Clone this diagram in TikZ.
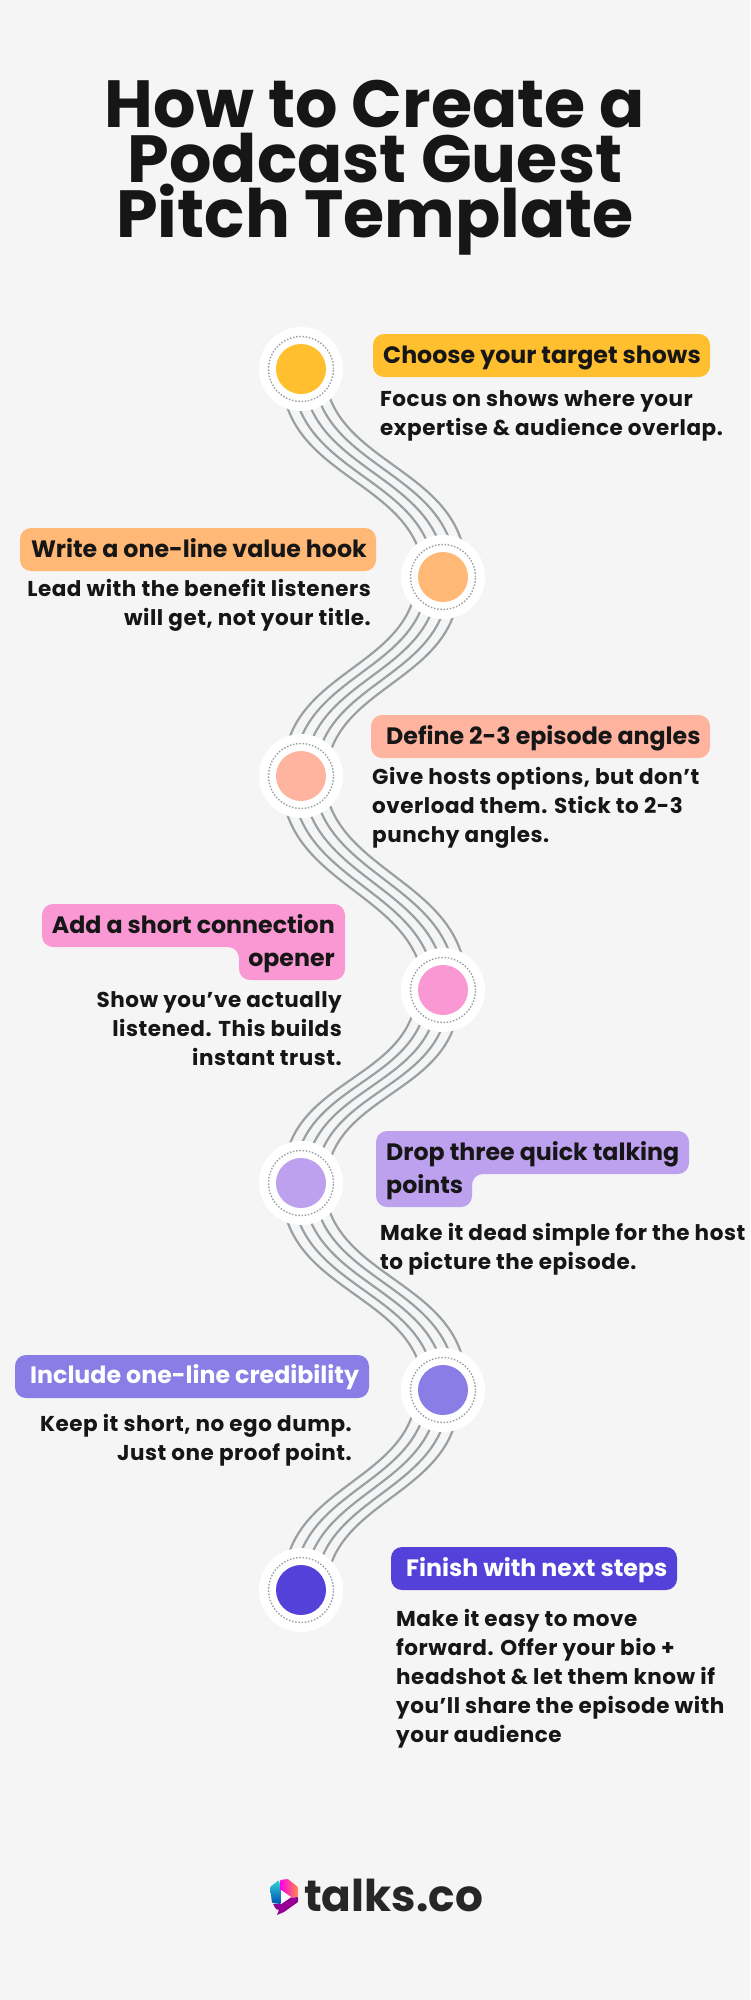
\documentclass[tikz,border=0pt]{standalone}
\usepackage{fontspec}
\setmainfont{Poppins}
\newfontfamily\bodyfont[LetterSpace=2.5]{Poppins}
\usetikzlibrary{positioning, backgrounds}
\definecolor{paper}{HTML}{F5F5F5}
\definecolor{ink}{HTML}{161616}
\definecolor{wavegray}{HTML}{99A0A4}
\definecolor{yellowstop}{HTML}{FFBF2E}
\definecolor{orangestop}{HTML}{FFB876}
\definecolor{salmonstop}{HTML}{FFB4A0}
\definecolor{pinkstop}{HTML}{F998D3}
\definecolor{lilacstop}{HTML}{BDA0EE}
\definecolor{violetstop}{HTML}{8A7EE6}
\definecolor{indigostop}{HTML}{5341DA}
\tikzset{
	x=1pt, y=-1pt, % one unit is one pixel of the reference, y runs down
	halo/.style={circle, fill=white, inner sep=0, minimum size=84pt}, % white disc of a stop
	ring/.style={circle, draw=wavegray, line width=1.4pt, dash pattern=on 1.5pt off 1.7pt, inner sep=0, minimum size=65pt},
	dot/.style={circle, inner sep=0, minimum size=50pt},
	wave/.style={draw=wavegray, line width=2.2pt},
	pill/.style={rounded corners=11pt},
	head/.style={inner sep=0, text=ink, font=\fontsize{23.7}{33}\selectfont\bfseries},
	copy/.style={inner sep=0, text=ink, font=\fontsize{21.5}{29}\selectfont\bodyfont\bfseries},
}
\begin{document}
\begin{tikzpicture}
	\useasboundingbox (0,0) rectangle (750,2000);
	\node[inner sep=0, text=ink, align=center, anchor=base, font=\fontsize{66.7}{55}\selectfont\bfseries] (title) at (375,237) {How to Create a\\Podcast Guest\\Pitch Template};
	% stops along the path
	\foreach \name/\cx/\cy/\col in {1/301/369/yellowstop, 2/443/577/orangestop, 3/301/776/salmonstop, 4/443/990/pinkstop, 5/301/1183/lilacstop, 6/443/1390/violetstop, 7/301/1590/indigostop} {
		\node[halo] (halo\name) at (\cx,\cy) {};
		\node[ring] (ring\name) at (\cx,\cy) {};
		\node[dot, fill=\col] (stop\name) at (\cx,\cy) {};
	}
	% the waves go behind the stops
	\begin{scope}[on background layer]
		\fill[paper] (0,0) rectangle (750,2000);
		\foreach \from/\to in {1/2, 3/4, 5/6}
			\foreach \off in {-2,...,2}
				\draw[wave] ([xshift=\off*10.5pt+2pt]stop\from.center) .. controls +({\off*2},{105-\off*3}) and +({\off*2},{-105-\off*3}) .. ([xshift=\off*10.5pt+2pt]stop\to.center);
		\foreach \from/\to in {2/3, 4/5, 6/7}
			\foreach \off in {-2,...,2}
				\draw[wave] ([xshift=\off*10.5pt-5pt]stop\from.center) .. controls +({\off*2},{100+\off*3}) and +({\off*2},{-100+\off*3}) .. ([xshift=\off*10.5pt+4pt]stop\to.center);
	\end{scope}
	% labels
	\fill[pill, yellowstop] (373,334) rectangle (710,377);
	\node[head, anchor=base west] (head1) at (383,363) {Choose your target shows};
	\node[copy, anchor=base west, align=left] (copy1) at (380,435) {Focus on shows where your\\expertise \& audience overlap.};
	\fill[pill, orangestop] (20,528) rectangle (376,571);
	\node[head, anchor=base east] (head2) at (367,557) {Write a one-line value hook};
	\node[copy, anchor=base east, align=right] (copy2) at (371,625) {Lead with the benefit listeners\\will get, not your title.};
	\fill[pill, salmonstop] (371,715) rectangle (710,758);
	\node[head, anchor=base west] (head3) at (386,744) {Define 2-3 episode angles};
	\node[copy, anchor=base west, align=left] (copy3) at (372,842) {Give hosts options, but don’t\\overload them. Stick to 2-3\\punchy angles.};
	\fill[pill, pinkstop] (42,904) -- (345,904) -- (345,980) -- (239,980) -- (239,947) -- (42,947) -- cycle;
	\node[head, anchor=base east, align=right] (head4) at (335,966) {Add a short connection\\opener};
	\node[copy, anchor=base east, align=right] (copy4) at (342,1065) {Show you’ve actually\\listened. This builds\\instant trust.};
	\fill[pill, lilacstop] (376,1131) -- (689,1131) -- (689,1174) -- (472,1174) -- (472,1207) -- (376,1207) -- cycle;
	\node[head, anchor=base west, align=left] (head5) at (386,1193) {Drop three quick talking\\points};
	\node[copy, anchor=base west, align=left] (copy5) at (380,1269) {Make it dead simple for the host\\to picture the episode.};
	\fill[pill, violetstop] (15,1355) rectangle (369,1398);
	\node[head, anchor=base west, text=white] (head6) at (30,1383) {Include one-line credibility};
	\node[copy, anchor=base east, align=right] (copy6) at (352,1460) {Keep it short, no ego dump.\\Just one proof point.};
	\fill[pill, indigostop] (391,1547) rectangle (677,1590);
	\node[head, anchor=base west, text=white] (head7) at (406,1576) {Finish with next steps};
	\node[copy, anchor=base west, align=left] (copy7) at (396,1742) {Make it easy to move\\forward. Offer your bio +\\headshot \& let them know if\\you’ll share the episode with\\your audience};
	% logo
	\shade[top color=cyan!60!teal!80, bottom color=blue!40!teal, rounded corners=1pt] (270,1887) -- (279,1880) -- (281,1890) -- (281,1904) -- (272,1903) -- cycle;
	\shade[left color=magenta!90!red, right color=orange!70!red!70, rounded corners=1pt] (280,1880) -- (288,1879) -- (298,1887) -- (298,1897) -- (290,1898) -- (280,1890) -- cycle;
	\fill[violet!85!magenta, rounded corners=0.5pt] (298,1897) -- (298,1902) -- (284,1912) -- (277,1915) -- (279,1910) -- (276,1909) -- (273,1904) -- (281,1904) -- (290,1898) -- cycle;
	\fill[white] (281,1890) -- (291,1897) -- (281,1904) -- cycle;
	\node[inner sep=0, anchor=base west, text=black!85, font=\fontsize{43.8}{46}\selectfont\bfseries] (brand) at (304,1911) {talks.co};
\end{tikzpicture}
\end{document}
